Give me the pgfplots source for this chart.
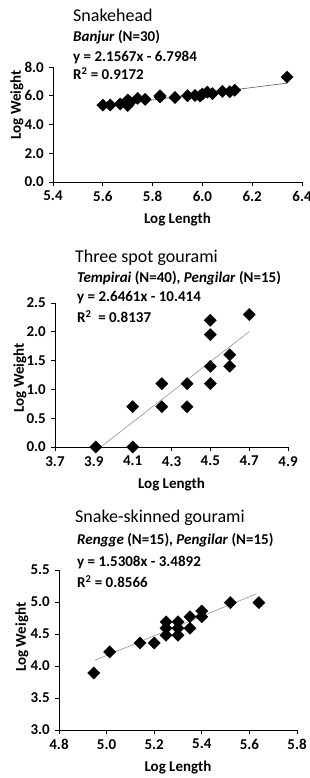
\documentclass[border=0pt]{standalone}
\usepackage{fontspec}
\setmainfont{Carlito}
\usepackage{pgfplots}
\pgfplotsset{compat=1.18}
\begin{document}
\fontsize{15pt}{18pt}\selectfont
\begin{tikzpicture}
\useasboundingbox (0pt,0pt) rectangle (309pt,778pt);
\clip (0pt,0pt) rectangle (309pt,778pt);
\pgfplotsset{myax/.style={scale only axis, anchor=south west,
  axis lines=left, axis line style={-,black,line width=0.9pt},
  tick align=outside, major tick length=4pt, tick style={black,line width=0.9pt},
  clip=false,
  /pgf/number format/assume math mode=true,
  /pgf/number format/fixed, /pgf/number format/fixed zerofill, /pgf/number format/precision=1,
  tick label style={font=\fontsize{15pt}{17pt}\selectfont\bfseries},
  label style={font=\fontsize{15pt}{18pt}\selectfont\bfseries},
  xlabel={Log Length}, ylabel={Log Weight},
  xlabel style={at={(axis description cs:0.5,0)}, anchor=center, yshift=-38pt},
}, pts/.style={only marks, mark=square*, mark size=4.3pt, mark options={rotate=45, fill=black, draw=black}}}
\tikzset{txt/.style={anchor=base west, inner sep=0pt, font=\fontsize{15pt}{18pt}\selectfont\bfseries},
ttl/.style={anchor=base west, inner sep=0pt, font=\fontsize{18pt}{20pt}\selectfont}}
% Panel 1
\begin{axis}[myax, at={(53pt,596pt)}, width=249pt, height=115pt,
  xmin=5.4, xmax=6.4, ymin=0, ymax=8,
  xtick={5.4,5.6,5.8,6.0,6.2,6.4}, ytick={0,2,4,6,8},
  ylabel style={at={(axis description cs:0,0.67)}, anchor=center, yshift=36pt}]
\addplot[black!65, line width=0.6pt, no marks] coordinates {(5.6,5.2791) (6.34,6.8751)};
\addplot[pts] table {
5.60 5.35
5.63 5.35
5.67 5.42
5.70 5.32
5.70 5.70
5.71 5.55
5.74 5.82
5.77 5.75
5.83 5.92
5.83 6.00
5.89 5.88
5.94 6.00
5.97 6.02
5.99 5.98
6.00 6.12
6.02 6.25
6.04 6.15
6.08 6.30
6.11 6.28
6.13 6.38
6.34 7.30
};
\end{axis}
% Panel 2
\begin{axis}[myax, at={(55pt,331pt)}, width=233pt, height=144pt,
  xmin=3.7, xmax=4.9, ymin=0, ymax=2.5,
  xtick={3.7,3.9,4.1,4.3,4.5,4.7,4.9}, ytick={0,0.5,1,1.5,2,2.5},
  ylabel style={at={(axis description cs:0,0.48)}, anchor=center, yshift=35pt}]
\addplot[gray!85, line width=0.6pt, no marks] coordinates {(3.9356,0) (4.7,2.0027)};
\addplot[pts] table {
3.91 0.00
4.10 0.70
4.10 0.00
4.25 1.10
4.25 0.70
4.38 1.10
4.38 0.70
4.50 2.20
4.50 1.95
4.50 1.40
4.50 1.10
4.60 1.60
4.60 1.40
4.70 2.30
};
\end{axis}
% Panel 3
\begin{axis}[myax, at={(59pt,48pt)}, width=238pt, height=160pt,
  xmin=4.8, xmax=5.8, ymin=3, ymax=5.5,
  xtick={4.8,5.0,5.2,5.4,5.6,5.8}, ytick={3,3.5,4,4.5,5,5.5},
  ylabel style={at={(axis description cs:0,0.58)}, anchor=center, yshift=37pt}]
\addplot[gray!85, line width=0.6pt, no marks] coordinates {(4.95,4.0883) (5.63,5.1292)};
\addplot[pts] table {
4.946 3.89
5.013 4.22
5.14 4.36
5.20 4.36
5.25 4.69
5.25 4.59
5.25 4.48
5.30 4.69
5.30 4.59
5.30 4.48
5.35 4.77
5.35 4.59
5.40 4.86
5.40 4.77
5.52 4.99
5.64 4.99
};
\end{axis}
% texts
\node[ttl] at (73pt,756.3pt) {Snakehead};
\node[txt] at (73pt,736.3pt) {\textit{Banjur} (N=30)};
\node[txt] at (73pt,716.3pt) {y = 2.1567x - 6.7984};
\node[txt] at (73pt,698pt) {R\textsuperscript{2} = 0.9172};
\node[ttl] at (75pt,515pt) {Three spot gourami};
\node[txt] at (77pt,495pt) {\textit{Tempirai} (N=40), \textit{Pengilar} (N=15)};
\node[txt] at (77pt,476pt) {y = 2.6461x - 10.414};
\node[txt] at (77pt,455pt) {R\textsuperscript{2}\ \ = 0.8137};
\node[ttl] at (75pt,255pt) {Snake-skinned gourami};
\node[txt] at (77pt,233pt) {\textit{Rengge} (N=15), \textit{Pengilar} (N=15)};
\node[txt] at (77pt,211pt) {y = 1.5308x - 3.4892};
\node[txt] at (77pt,190pt) {R\textsuperscript{2} = 0.8566};
\end{tikzpicture}
\end{document}
